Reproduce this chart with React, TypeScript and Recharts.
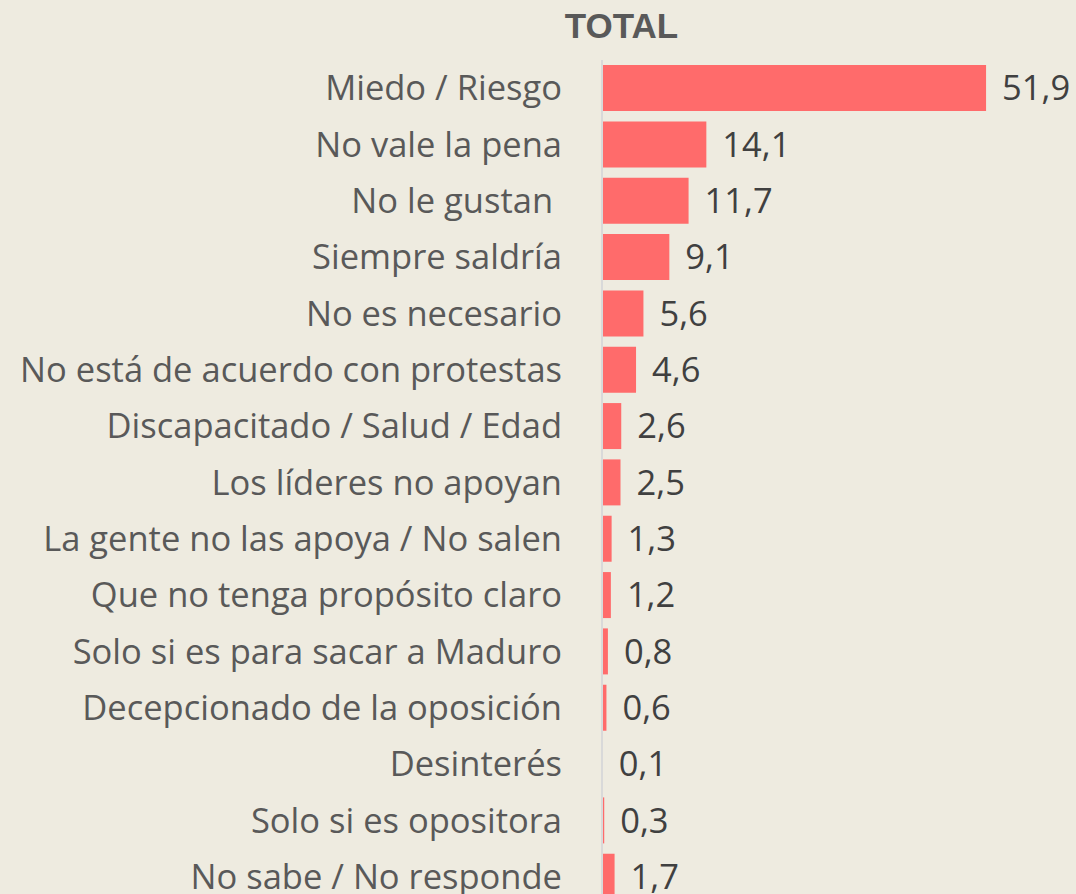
import { BarChart, Bar, XAxis, YAxis, LabelList } from "recharts";

const categories = [
  "Miedo / Riesgo",
  "No vale la pena",
  "No le gustan ",
  "Siempre saldría",
  "No es necesario",
  "No está de acuerdo con protestas",
  "Discapacitado / Salud / Edad",
  "Los líderes no apoyan",
  "La gente no las apoya / No salen",
  "Que no tenga propósito claro",
  "Solo si es para sacar a Maduro",
  "Decepcionado de la oposición",
  "Desinterés",
  "Solo si es opositora",
  "No sabe / No responde",
];

const totals = [51.9, 14.1, 11.7, 9.1, 5.6, 4.6, 2.6, 2.5, 1.3, 1.2, 0.8, 0.6, 0.1, 0.3, 1.7];

const data = categories.map((name, i) => ({ name, total: totals[i] }));

const FONT = "'Open Sans', 'Noto Sans', sans-serif";

const CategoryTick = (props: any) => {
  const { x, y, payload } = props;
  return (
    <text
      x={x - 32}
      y={y}
      dy={12}
      textAnchor="end"
      fontSize={34.5}
      fontFamily={FONT}
      fill="#595959"
      style={{ whiteSpace: "pre" }}
    >
      {payload.value}
    </text>
  );
};

export default function App() {
  return (
    <div
      style={{
        position: "absolute",
        left: 0,
        top: 0,
        width: 1076,
        height: 894,
        overflow: "hidden",
        background: "#EEEBE0",
      }}
    >
      <div
        style={{
          position: "absolute",
          left: 0,
          top: 6,
          width: 1243,
          textAlign: "center",
          fontFamily: "'Liberation Sans', Arial, sans-serif",
          fontWeight: "bold",
          fontSize: 35,
          color: "#595959",
        }}
      >
        TOTAL
      </div>
      <BarChart
        width={1076}
        height={905}
        data={data}
        layout="vertical"
        margin={{ top: 60, right: 30, bottom: 0, left: 0 }}
        barCategoryGap="9%"
      >
        <XAxis type="number" domain={[0, 60]} hide />
        <YAxis
          type="category"
          dataKey="name"
          width={602}
          axisLine={{ stroke: "#D9D9D9", strokeWidth: 2 }}
          tickLine={false}
          tick={<CategoryTick />}
          interval={0}
        />
        <Bar dataKey="total" fill="#FF6B6B" isAnimationActive={false}>
          <LabelList
            dataKey="total"
            position="right"
            offset={16}
            formatter={(v: any) => String(v).replace(".", ",")}
            style={{ fontSize: 34.5, fontFamily: FONT, fill: "#404040" }}
          />
        </Bar>
      </BarChart>
    </div>
  );
}
